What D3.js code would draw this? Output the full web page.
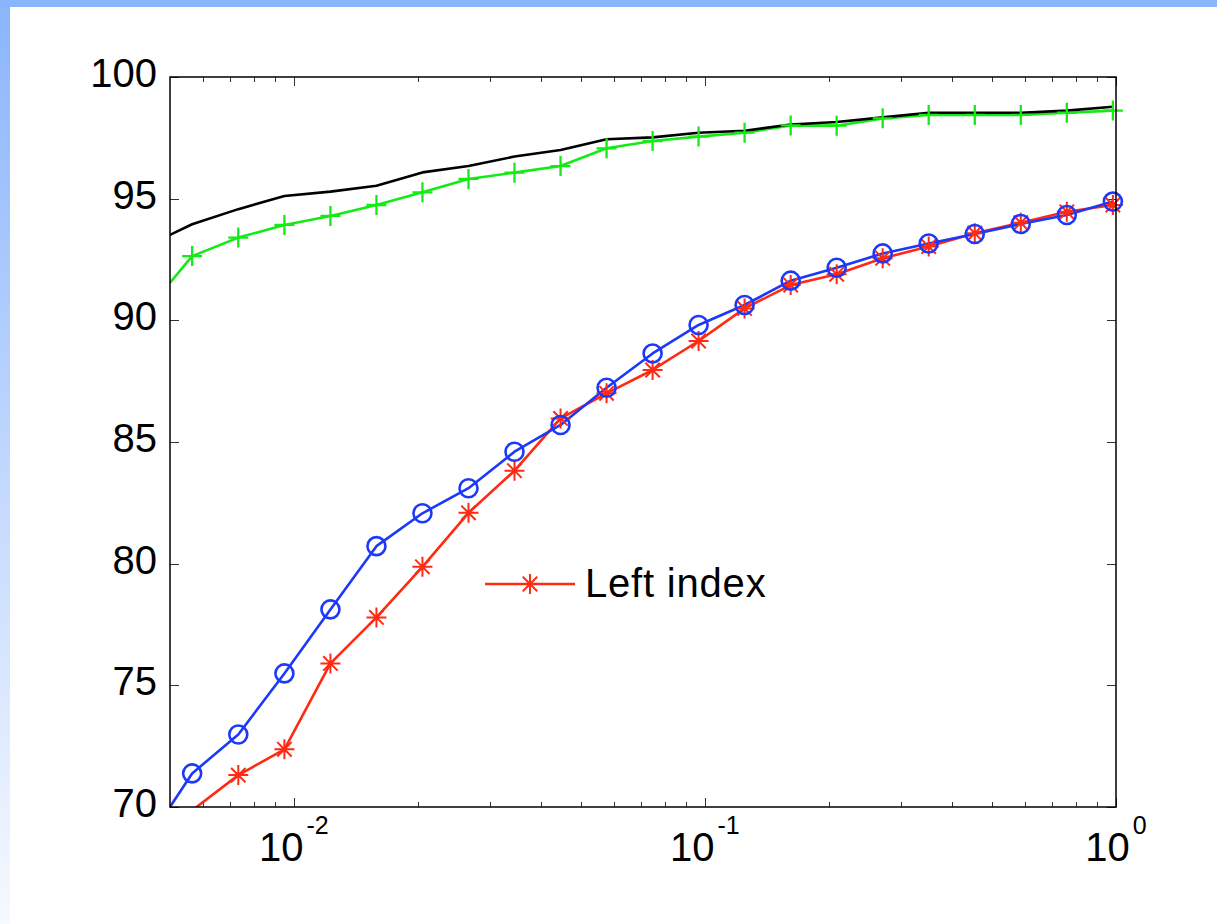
<!DOCTYPE html>
<html>
<head>
<meta charset="utf-8">
<script src="https://cdn.jsdelivr.net/npm/d3@7/dist/d3.min.js"></script>
<style>
  html, body { margin: 0; padding: 0; background: #ffffff; }
  svg { display: block; }
  text { font-family: "Liberation Sans", Arial, Helvetica, sans-serif; fill: #000; }
</style>
</head>
<body>
<svg id="chart" width="1217" height="924"></svg>
<script>
// ---- data ----
const xValues = [0.00438, 0.00566, 0.00733, 0.00949, 0.01228, 0.01589, 0.02056, 0.02661, 0.03443,
  0.04456, 0.05766, 0.07462, 0.09654, 0.1249, 0.1617, 0.2092, 0.2707, 0.3503, 0.4534,
  0.5867, 0.7592, 0.9826];
const blackSeries = [93.04, 93.95, 94.57, 95.11, 95.29, 95.53, 96.08, 96.34, 96.73, 97.00, 97.44,
  97.52, 97.71, 97.79, 98.05, 98.15, 98.34, 98.53, 98.53, 98.53, 98.62, 98.78];
const greenSeries = [90.38, 92.64, 93.40, 93.92, 94.29, 94.74, 95.26, 95.81, 96.07, 96.34, 97.07,
  97.37, 97.55, 97.71, 98.01, 98.00, 98.30, 98.44, 98.44, 98.44, 98.53, 98.62];
const blueSeries = [68.53, 71.38, 72.98, 75.49, 78.12, 80.72, 82.07, 83.10, 84.60, 85.70, 87.23,
  88.64, 89.81, 90.63, 91.63, 92.16, 92.75, 93.16, 93.55, 93.96, 94.33, 94.88];
const redSeries = [null, 69.86, 71.31, 72.37, 75.90, 77.79, 79.87, 82.09, 83.82, 85.97, 87.00,
  87.96, 89.15, 90.49, 91.45, 91.89, 92.55, 93.03, 93.58, 94.01, 94.46, 94.74];
const xDomain = [0.005, 1];
const yDomain = [70, 100];
const yTicks = [70, 75, 80, 85, 90, 95, 100];
const xMajorTicks = [0.01, 0.1, 1];
const xTickExponents = ["-2", "-1", "0"];
const legendLabel = "Left index";

// ---- layout ----
const svg = d3.select("#chart");
const W = 1217, H = 924;
const plot = { left: 170, right: 1116, top: 77, bottom: 807 };

// background frame (blue band at top, gradient band at left)
const defs = svg.append("defs");
const grad = defs.append("linearGradient").attr("id", "leftGrad")
  .attr("x1", 0).attr("y1", 0).attr("x2", 0).attr("y2", 1);
grad.append("stop").attr("offset", "0%").attr("stop-color", "#8ab5fc");
grad.append("stop").attr("offset", "100%").attr("stop-color", "#f6f9ff");
svg.append("rect").attr("x", 0).attr("y", 0).attr("width", W).attr("height", H).attr("fill", "#ffffff");
svg.append("rect").attr("x", 0).attr("y", 0).attr("width", 10).attr("height", H).attr("fill", "url(#leftGrad)");
svg.append("rect").attr("x", 0).attr("y", 0).attr("width", W).attr("height", 7).attr("fill", "#8ab5fc");

defs.append("clipPath").attr("id", "plotClip").append("rect")
  .attr("x", plot.left).attr("y", plot.top)
  .attr("width", plot.right - plot.left).attr("height", plot.bottom - plot.top);

const x = d3.scaleLog().domain(xDomain).range([plot.left, plot.right]);
const y = d3.scaleLinear().domain(yDomain).range([plot.bottom, plot.top]);

// ---- ticks (inward, on all four sides) ----
const tickG = svg.append("g").attr("stroke", "#333").attr("stroke-width", 1);
const minorTicks = [];
[0.001, 0.01, 0.1].forEach(dec => {
  for (let m = 2; m <= 9; m++) {
    const v = dec * m;
    if (v > xDomain[0] && v < xDomain[1] && !xMajorTicks.includes(v)) minorTicks.push(v);
  }
});
minorTicks.forEach(v => {
  const px = Math.round(x(v)) + 0.5;
  tickG.append("line").attr("x1", px).attr("x2", px).attr("y1", plot.bottom).attr("y2", plot.bottom - 5);
  tickG.append("line").attr("x1", px).attr("x2", px).attr("y1", plot.top).attr("y2", plot.top + 5);
});
xMajorTicks.forEach(v => {
  const px = Math.round(x(v)) + 0.5;
  tickG.append("line").attr("x1", px).attr("x2", px).attr("y1", plot.bottom).attr("y2", plot.bottom - 9);
  tickG.append("line").attr("x1", px).attr("x2", px).attr("y1", plot.top).attr("y2", plot.top + 9);
});
yTicks.forEach(v => {
  const py = Math.round(y(v)) + 0.5;
  tickG.append("line").attr("x1", plot.left).attr("x2", plot.left + 9).attr("y1", py).attr("y2", py);
  tickG.append("line").attr("x1", plot.right).attr("x2", plot.right - 9).attr("y1", py).attr("y2", py);
});

// ---- tick labels ----
const yLab = svg.append("g");
yTicks.forEach(v => {
  yLab.append("text").attr("x", plot.left - 13).attr("y", y(v) + 10)
    .attr("text-anchor", "end").attr("font-size", 40).text(v);
});
const xLab = svg.append("g");
xMajorTicks.forEach((v, i) => {
  const t = xLab.append("text").attr("x", x(v)).attr("y", plot.bottom + 54)
    .attr("text-anchor", "middle").attr("font-size", 40);
  t.append("tspan").text("10");
  t.append("tspan").attr("font-size", 25).attr("dy", -27).attr("dx", 3).text(xTickExponents[i]);
});

// ---- series ----
const pts = vals => xValues.map((xv, i) => ({ x: xv, y: vals[i] }));
const lineGen = d3.line().defined(d => d.y != null).x(d => x(d.x)).y(d => y(d.y));
const lines = svg.append("g").attr("clip-path", "url(#plotClip)").attr("fill", "none")
  .attr("stroke-width", 2.6).attr("stroke-linejoin", "round");

const colors = { black: "#000000", green: "#14ea14", blue: "#1c38f8", red: "#ff2a14" };

const inside = d => d.y != null && d.y >= yDomain[0] && d.y <= yDomain[1]
  && d.x >= xDomain[0] && d.x <= xDomain[1];

// red (stars)
lines.append("path").datum(pts(redSeries)).attr("stroke", colors.red).attr("d", lineGen);
// blue (circles)
lines.append("path").datum(pts(blueSeries)).attr("stroke", colors.blue).attr("d", lineGen);
// green (plus)
lines.append("path").datum(pts(greenSeries)).attr("stroke", colors.green).attr("d", lineGen);
// black
lines.append("path").datum(pts(blackSeries)).attr("stroke", colors.black).attr("d", lineGen);

function starPath(cx, cy, r) {
  const d = r * 0.72;
  return `M${cx - r},${cy}L${cx + r},${cy}M${cx},${cy - r}L${cx},${cy + r}` +
    `M${cx - d},${cy - d}L${cx + d},${cy + d}M${cx - d},${cy + d}L${cx + d},${cy - d}`;
}
function plusPath(cx, cy, r) {
  return `M${cx - r},${cy}L${cx + r},${cy}M${cx},${cy - r}L${cx},${cy + r}`;
}

const mk = svg.append("g").attr("fill", "none");
mk.selectAll(".star").data(pts(redSeries).filter(inside)).join("path")
  .attr("class", "star").attr("stroke", colors.red).attr("stroke-width", 2)
  .attr("d", d => starPath(x(d.x), y(d.y), 10));
mk.selectAll(".circ").data(pts(blueSeries).filter(inside)).join("circle")
  .attr("class", "circ").attr("stroke", colors.blue).attr("stroke-width", 2.6)
  .attr("cx", d => x(d.x)).attr("cy", d => y(d.y)).attr("r", 9);
mk.selectAll(".plus").data(pts(greenSeries).filter(inside)).join("path")
  .attr("class", "plus").attr("stroke", colors.green).attr("stroke-width", 2.3)
  .attr("d", d => plusPath(x(d.x), y(d.y), 10));

// ---- axes box ----
svg.append("rect").attr("x", plot.left).attr("y", plot.top)
  .attr("width", plot.right - plot.left).attr("height", plot.bottom - plot.top)
  .attr("fill", "none").attr("stroke", "#000").attr("stroke-width", 1.5);

// ---- legend ----
const lg = svg.append("g");
lg.append("line").attr("x1", 485).attr("x2", 575).attr("y1", 584).attr("y2", 584)
  .attr("stroke", colors.red).attr("stroke-width", 2.4);
lg.append("path").attr("d", starPath(530, 584, 10)).attr("stroke", colors.red)
  .attr("stroke-width", 2).attr("fill", "none");
lg.append("text").attr("x", 585).attr("y", 597).attr("font-size", 40)
  .attr("letter-spacing", 0.8).text(legendLabel);
</script>
</body>
</html>
